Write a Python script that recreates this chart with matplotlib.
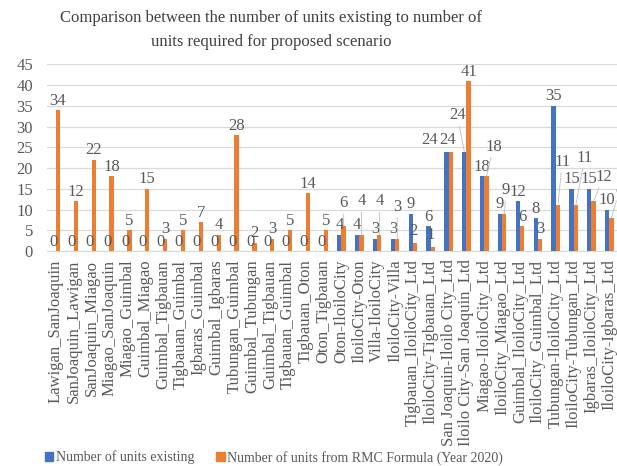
import matplotlib
matplotlib.use("Agg")
import matplotlib.pyplot as plt
import numpy as np
from matplotlib.patches import Patch

# Routes and unit counts
routes = [
    "Lawigan_SanJoaquin", "SanJoaquin_Lawigan", "SanJoaquin_Miagao", "Miagao_SanJoaquin",
    "Miagao_Guimbal", "Guimbal_Miagao", "Guimbal_Tigbauan", "Tigbauan_Guimbal",
    "Igbaras_Guimbal", "Guimbal_Igbaras", "Tubungan_Guimbal", "Guimbal_Tubungan",
    "Guimbal_Tigbauan", "Tigbauan_Guimbal", "Tigbauan_Oton", "Oton_Tigbauan",
    "Oton-IloiloCity", "IloiloCity-Oton", "Villa-IloiloCity", "IloiloCity-Villa",
    "Tigbauan_IloiloCity_Ltd", "IloiloCity-Tigbauan_Ltd", "San Joaquin-Iloilo City_Ltd",
    "Iloilo City-San Joaquin_Ltd", "Miagao-IloiloCity_Ltd", "IloiloCity_Miagao_Ltd",
    "Guimbal_IloiloCity_Ltd", "IloiloCity_Guimbal_Ltd", "Tubungan-IloiloCity_Ltd",
    "IloiloCity-Tubungan_Ltd", "Igbaras_IloiloCity_Ltd", "IloiloCity-Igbaras_Ltd",
]
units_existing = [0, 0, 0, 0, 0, 0, 0, 0, 0, 0, 0, 0, 0, 0, 0, 0,
                  4, 4, 3, 3, 9, 6, 24, 24, 18, 9, 12, 8, 35, 15, 15, 10]
units_rmc = [34, 12, 22, 18, 5, 15, 3, 5, 7, 4, 28, 2, 3, 5, 14, 5,
             6, 4, 4, 3, 2, 1, 24, 41, 18, 9, 6, 3, 11, 11, 12, 8]

BLUE = "#4472C4"
ORANGE = "#ED7D31"
TEXT = "#595959"
GRID = "#D9D9D9"

plt.rcParams["font.family"] = ["Liberation Serif", "DejaVu Serif"]

fig = plt.figure(figsize=(6.17, 4.66), dpi=100)
ax = fig.add_axes([0.076, 0.461, 0.926, 0.401])

x = np.arange(len(routes))
w = 0.24
ax.bar(x - w / 2, units_existing, width=w, color=BLUE, zorder=3)
ax.bar(x + w / 2, units_rmc, width=w, color=ORANGE, zorder=3)

# Data labels placed away from their bars: index -> (dx in categories, label y centre, leader line)
moved_blue = {22: (-0.95, 26.7, False), 23: (-0.4, 32.7, True)}
moved_orange = {16: (0.0, 11.5, True), 17: (0.0, 12.0, True), 18: (0.0, 12.0, True),
                19: (0.0, 10.6, True), 20: (-0.1, 4.8, False), 21: (-0.1, 3.8, False),
                22: (-0.2, 26.7, False),
                24: (0.4, 25.2, True), 25: (0.1, 14.7, True), 28: (0.25, 21.5, True),
                29: (0.5, 22.4, True), 30: (0.55, 17.9, True), 31: (0.45, 14.7, True)}

lab_kw = dict(fontsize=12, color=TEXT, ha="center", zorder=4, annotation_clip=False)
leader = dict(arrowstyle="-", color="#BFBFBF", lw=0.6, shrinkA=0, shrinkB=0)

for series, offs, moved in ((units_existing, -w / 2, moved_blue),
                            (units_rmc, w / 2, moved_orange)):
    for i, v in enumerate(series):
        xi = x[i] + offs
        if i in moved:
            dx, yc, line = moved[i]
            ax.annotate(str(v), xy=(xi, v), xytext=(xi + dx, yc), textcoords="data",
                        va="center", arrowprops=leader if line else None, **lab_kw)
        else:
            ax.annotate(str(v), xy=(xi, v), xytext=(0, 1), textcoords="offset points",
                        va="bottom", **lab_kw)

ax.set_xlim(-0.5, len(routes) - 0.5)
ax.set_ylim(0, 45)
ax.set_yticks(np.arange(0, 46, 5))
ax.yaxis.grid(True, color=GRID, lw=0.9, zorder=0)
ax.set_axisbelow(True)
for s in ("left", "right", "top"):
    ax.spines[s].set_visible(False)
ax.spines["bottom"].set_color(GRID)
ax.tick_params(axis="y", length=0, pad=10, labelsize=12, labelcolor=TEXT)
ax.tick_params(axis="x", length=0, pad=6, labelsize=12, labelcolor=TEXT)
ax.set_xticks(x)
ax.set_xticklabels(routes, rotation=90)

fig.text(0.44, 0.935,
         "Comparison between the number of units existing to number of\nunits required for proposed scenario",
         ha="center", va="center", fontsize=12, color="#404040", linespacing=1.65)

handles = [Patch(color=BLUE, label="Number of units existing"),
           Patch(color=ORANGE, label="Number of units from RMC Formula (Year 2020)")]
fig.legend(handles=handles, loc="center", bbox_to_anchor=(0.444, 0.018), ncol=2,
           frameon=False, fontsize=10, handlelength=0.6, handleheight=0.6,
           handletextpad=0.2, columnspacing=1.6, labelcolor=TEXT)

fig.savefig("out.png", dpi=100)
